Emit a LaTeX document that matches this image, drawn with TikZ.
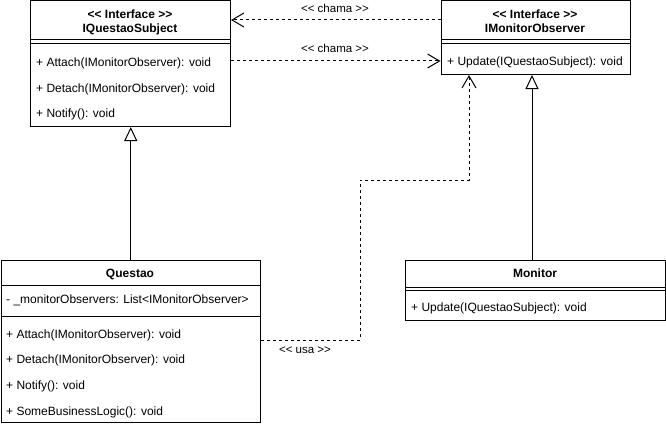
\documentclass[tikz,border=0pt]{standalone}
\usepackage{fontspec}
\setmainfont{Liberation Sans}
\usetikzlibrary{arrows.meta}
\newcommand\lgl{<\kern0pt<}
\newcommand\rgl{>\kern0pt>}
\begin{document}
\begin{tikzpicture}[x=1pt,y=-1pt,
  box/.style={draw, line width=1pt, inner sep=0pt, anchor=north west},
  sep/.style={line width=1pt},
  txt/.style={inner sep=0pt, anchor=west, font=\fontsize{12}{14}\selectfont, text height=8.6pt, text depth=2.5pt},
  ttl/.style={inner sep=0pt, font=\fontsize{12}{14}\selectfont\bfseries, text height=8.6pt, text depth=2.5pt},
  lbl/.style={inner sep=0pt, font=\fontsize{11.5}{13}\selectfont, text height=8pt, text depth=2.3pt},
  dep/.style={line width=1pt, dash pattern=on 3pt off 3pt, -{Straight Barb[length=12pt,width=14pt]}},
  gen/.style={line width=1pt, -{Triangle[length=14pt,width=13pt,fill=white]}}
]
\useasboundingbox (0,0) rectangle (666,428);

% boxes
\node[box, minimum width=200pt, minimum height=125.5pt] (qs) at (30,0.5) {};
\node[box, minimum width=189.5pt, minimum height=73.5pt] (mo) at (440.5,0.5) {};
\node[box, minimum width=259.5pt, minimum height=162pt] (q) at (0.5,260) {};
\node[box, minimum width=260pt, minimum height=60pt] (m) at (405,260) {};

% helper coordinates
\coordinate (y40) at (0,40);
\coordinate (y44) at (0,44);
\coordinate (y285) at (0,285);
\coordinate (y316) at (0,316);
\coordinate (y287) at (0,287.5);
\coordinate (y290) at (0,290.5);
\coordinate (y20) at (0,20);
\coordinate (y61) at (0,61);
\coordinate (u1) at (0,340);
\coordinate (k1) at (360,180);
\coordinate (ux) at (469,0);
\coordinate (gx) at (532,0);

% separators
\draw[sep] (qs.west |- y40) -- (qs.east |- y40);
\draw[sep] (qs.west |- y44) -- (qs.east |- y44);
\draw[sep] (mo.west |- y40) -- (mo.east |- y40);
\draw[sep] (mo.west |- y44) -- (mo.east |- y44);
\draw[sep] (q.west |- y285) -- (q.east |- y285);
\draw[sep] (q.west |- y316) -- (q.east |- y316);
\draw[sep] (m.west |- y287) -- (m.east |- y287);
\draw[sep] (m.west |- y290) -- (m.east |- y290);

% IQuestaoSubject
\node[ttl] (qs1) at (130,15) {\lgl{} Interface \rgl};
\node[ttl] (qs2) at (130,29) {IQuestaoSubject};
\node[txt] (qs3) at (36,63) {+ Attach(IMonitorObserver): void};
\node[txt] (qs4) at (36,89) {+ Detach(IMonitorObserver): void};
\node[txt] (qs5) at (36,114) {+ Notify(): void};

% IMonitorObserver
\node[ttl] (mo1) at (535,15) {\lgl{} Interface \rgl};
\node[ttl] (mo2) at (535,29) {IMonitorObserver};
\node[txt] (mo3) at (447,62) {+ Update(IQuestaoSubject): void};

% Questao
\node[ttl] (q1) at (130,274) {Questao};
\node[txt] (q2) at (6,300) {- \_monitorObservers: List<IMonitorObserver>};
\node[txt] (q3) at (6,335) {+ Attach(IMonitorObserver): void};
\node[txt] (q4) at (6,360) {+ Detach(IMonitorObserver): void};
\node[txt] (q5) at (6,386) {+ Notify(): void};
\node[txt] (q6) at (6,412) {+ SomeBusinessLogic(): void};

% Monitor
\node[ttl] (m1) at (535,274) {Monitor};
\node[txt] (m2) at (411,308) {+ Update(IQuestaoSubject): void};

% connectors
\draw[dep] (mo.west |- y20) -- (qs.east |- y20);
\node[lbl] (l1) at (335,10) {\lgl{} chama \rgl};
\draw[dep] (qs.east |- y61) -- (mo.west |- y61);
\node[lbl] (l2) at (335,50) {\lgl{} chama \rgl};
\draw[dep] (q.east |- u1) -| (k1) -| (mo.south -| ux);
\node[lbl] (l3) at (305,351) {\lgl{} usa \rgl};

\draw[gen] (q.north) -- (q.north |- qs.south);
\draw[gen] (m.north -| gx) -- (mo.south -| gx);
\end{tikzpicture}
\end{document}
